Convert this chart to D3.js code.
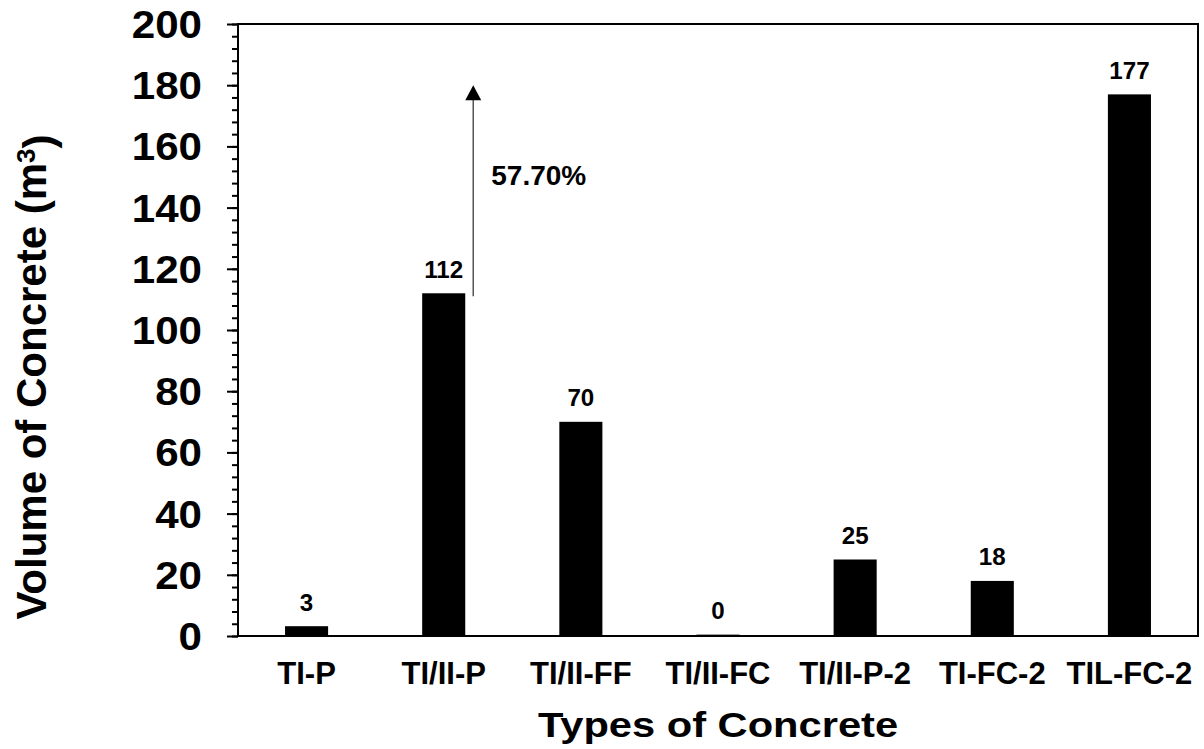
<!DOCTYPE html>
<html>
<head>
<meta charset="utf-8">
<script src="https://cdn.jsdelivr.net/npm/d3@7"></script>
<style>
  html, body { margin: 0; padding: 0; background: #fff; }
  svg text { font-family: "Liberation Sans", Arial, sans-serif; font-weight: bold; fill: #000; }
</style>
</head>
<body>
<svg class="js-chart" width="1204" height="749"></svg>
<script>
// data
var categories = ['TI-P', 'TI/II-P', 'TI/II-FF', 'TI/II-FC', 'TI/II-P-2', 'TI-FC-2', 'TIL-FC-2'],
    volumes = [3.2, 112, 70, 0.45, 25, 18, 177],
    yTicks = [0, 20, 40, 60, 80, 100, 120, 140, 160, 180, 200],
    arrowFrom = 111,
    arrowTo = 180,
    arrowLabel = '57.70%';

// layout
var margin = { top: 24, right: 6, bottom: 113, left: 238 },
    width = 1204 - margin.left - margin.right,
    height = 749 - margin.top - margin.bottom;

var svg = d3.select('.js-chart'),
    g = svg.append('g')
      .attr('transform', 'translate(' + margin.left + ',' + margin.top + ')');

var x = d3.scaleBand()
    .domain(categories)
    .range([0, width])
    .paddingInner(0.686)
    .paddingOuter(0.343);

var y = d3.scaleLinear()
    .domain([0, 200])
    .range([height, 0]);

// minor ticks
g.append('g')
  .call(d3.axisLeft(y).tickValues(d3.range(0, 201, 4)).tickSize(6).tickFormat(''))
  .call(function (a) {
    a.select('.domain').remove();
    a.selectAll('line').attr('stroke-width', 2);
  });

// major ticks + labels
g.append('g')
  .call(d3.axisLeft(y).tickValues(yTicks).tickSize(11).tickPadding(0).tickFormat(d3.format('d')))
  .call(function (a) {
    a.select('.domain').remove();
    a.selectAll('line').attr('stroke-width', 2);
    a.selectAll('text')
      .attr('x', 0)
      .attr('dy', null)
      .attr('dominant-baseline', 'central')
      .attr('transform', 'translate(-36,0) scale(1.08,1)')
      .style('font-size', '39px');
  });

// bars
g.selectAll('rect.bar')
  .data(volumes)
  .enter().append('rect')
  .attr('class', 'bar')
  .attr('x', function (d, i) { return x(categories[i]); })
  .attr('width', x.bandwidth())
  .attr('y', function (d) { return y(d); })
  .attr('height', function (d) { return height - y(d); })
  .attr('fill', '#000');

// bar labels
g.selectAll('text.value')
  .data(volumes)
  .enter().append('text')
  .attr('class', 'value')
  .attr('text-anchor', 'middle')
  .attr('transform', function (d, i) {
    return 'translate(' + (x(categories[i]) + x.bandwidth() / 2) + ',' + (y(d) - 15.5) + ') scale(1.05,1)';
  })
  .style('font-size', '23px')
  .text(function (d) { return Math.round(d); });

// frame
g.append('rect')
  .attr('width', width)
  .attr('height', height)
  .attr('fill', 'none')
  .attr('stroke', '#000')
  .attr('stroke-width', 2);

// x labels
g.selectAll('text.cat')
  .data(categories)
  .enter().append('text')
  .attr('class', 'cat')
  .attr('text-anchor', 'middle')
  .attr('x', function (d) { return x(d) + x.bandwidth() / 2; })
  .attr('y', height + 47.5)
  .style('font-size', '31px')
  .text(function (d) { return d; });

// arrow
var arrowX = x(categories[1]) + x.bandwidth() + 8;
g.append('line')
  .attr('x1', arrowX).attr('x2', arrowX)
  .attr('y1', y(arrowFrom)).attr('y2', y(arrowTo) + 12)
  .attr('stroke', '#555')
  .attr('stroke-width', 1.5);
g.append('path')
  .attr('d', 'M' + arrowX + ',' + y(arrowTo) + 'l8,15h-16z')
  .attr('fill', '#000');
g.append('text')
  .attr('x', arrowX + 18)
  .attr('y', 161)
  .style('font-size', '28px')
  .text(arrowLabel);

// axis titles
svg.append('text')
  .attr('text-anchor', 'middle')
  .attr('transform', 'translate(' + (margin.left + width / 2) + ',737) scale(1.19,1)')
  .style('font-size', '35px')
  .text('Types of Concrete');

var yt = svg.append('text')
  .attr('text-anchor', 'middle')
  .attr('transform', 'translate(46,377) rotate(-90)')
  .style('font-size', '42px');
yt.append('tspan').text('Volume of Concrete (m');
yt.append('tspan').attr('dy', '-0.42em').style('font-size', '26px').text('3');
yt.append('tspan').attr('dy', '0.42em').text(')');
</script>
</body>
</html>
